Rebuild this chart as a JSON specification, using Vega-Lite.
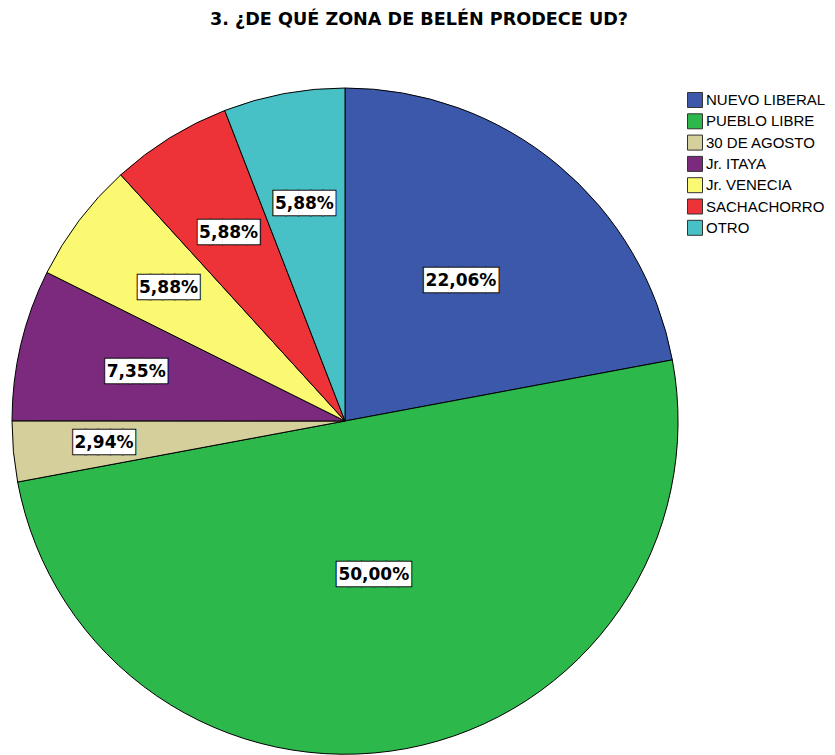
{
  "$schema": "https://vega.github.io/schema/vega-lite/v6.json",
  "width": 666,
  "height": 666,
  "autosize": {"type": "none"},
  "padding": {"left": 12, "top": 88, "right": 157, "bottom": 1},
  "background": "white",
  "title": {
    "text": "3. ¿DE QUÉ ZONA DE BELÉN PRODECE UD?",
    "font": "DejaVu Sans",
    "fontSize": 17.6,
    "fontWeight": "bold",
    "color": "black",
    "anchor": "middle",
    "dx": 74,
    "offset": 57
  },
  "data": {
    "values": [
      {"zona": "NUEVO LIBERAL", "porcentaje": 22.06, "etiqueta": "22,06%", "orden": 1},
      {"zona": "PUEBLO LIBRE", "porcentaje": 50.00, "etiqueta": "50,00%", "orden": 2},
      {"zona": "30 DE AGOSTO", "porcentaje": 2.94, "etiqueta": "2,94%", "orden": 3},
      {"zona": "Jr. ITAYA", "porcentaje": 7.35, "etiqueta": "7,35%", "orden": 4},
      {"zona": "Jr. VENECIA", "porcentaje": 5.88, "etiqueta": "5,88%", "orden": 5},
      {"zona": "SACHACHORRO", "porcentaje": 5.88, "etiqueta": "5,88%", "orden": 6},
      {"zona": "OTRO", "porcentaje": 5.88, "etiqueta": "5,88%", "orden": 7}
    ]
  },
  "encoding": {
    "theta": {"field": "porcentaje", "type": "quantitative", "stack": true},
    "order": {"field": "orden", "type": "quantitative"}
  },
  "layer": [
    {
      "mark": {"type": "arc", "stroke": "black", "strokeWidth": 1},
      "encoding": {
        "color": {
          "field": "zona",
          "type": "nominal",
          "scale": {
            "domain": ["NUEVO LIBERAL", "PUEBLO LIBRE", "30 DE AGOSTO", "Jr. ITAYA", "Jr. VENECIA", "SACHACHORRO", "OTRO"],
            "range": ["#3C58AB", "#2DB84B", "#D5CF9B", "#7B2A7D", "#FBF872", "#EE3338", "#47C1C6"]
          },
          "legend": {
            "title": null,
            "orient": "none",
            "legendX": 675,
            "legendY": 4,
            "padding": 0,
            "symbolType": "square",
            "symbolSize": 225,
            "symbolStrokeColor": "#333333",
            "symbolStrokeWidth": 1,
            "symbolOpacity": 1,
            "labelFont": "Liberation Sans",
            "labelFontSize": 15,
            "labelColor": "black",
            "labelOffset": 3,
            "rowPadding": 1.3,
            "labelLimit": 300
          }
        }
      }
    },
    {
      "mark": {"type": "text", "font": "DejaVu Sans Mono", "fontSize": 20.5, "fill": "white", "stroke": "black", "strokeWidth": 2, "baseline": "middle", "align": "center"},
      "encoding": {
        "detail": {"field": "zona", "type": "nominal"},
        "radius": {"field": "porcentaje", "type": "quantitative", "scale": {"type": "log", "domain": [2.94, 50], "range": [242, 157]}},
        "text": {"condition": {"test": "datum.porcentaje >= 10", "value": "██████"}, "value": "█████"}
      }
    },
    {
      "mark": {"type": "text", "font": "DejaVu Sans Mono", "fontSize": 20.5, "fill": "white", "baseline": "middle", "align": "center"},
      "encoding": {
        "detail": {"field": "zona", "type": "nominal"},
        "radius": {"field": "porcentaje", "type": "quantitative", "scale": {"type": "log", "domain": [2.94, 50], "range": [242, 157]}},
        "text": {"condition": {"test": "datum.porcentaje >= 10", "value": "██████"}, "value": "█████"}
      }
    },
    {
      "mark": {"type": "text", "font": "DejaVu Sans", "fontWeight": "bold", "fontSize": 17, "fill": "black", "baseline": "middle", "align": "center"},
      "encoding": {
        "detail": {"field": "zona", "type": "nominal"},
        "radius": {"field": "porcentaje", "type": "quantitative", "scale": {"type": "log", "domain": [2.94, 50], "range": [242, 157]}},
        "text": {"field": "etiqueta", "type": "nominal"}
      }
    }
  ],
  "config": {"view": {"stroke": null}}
}
